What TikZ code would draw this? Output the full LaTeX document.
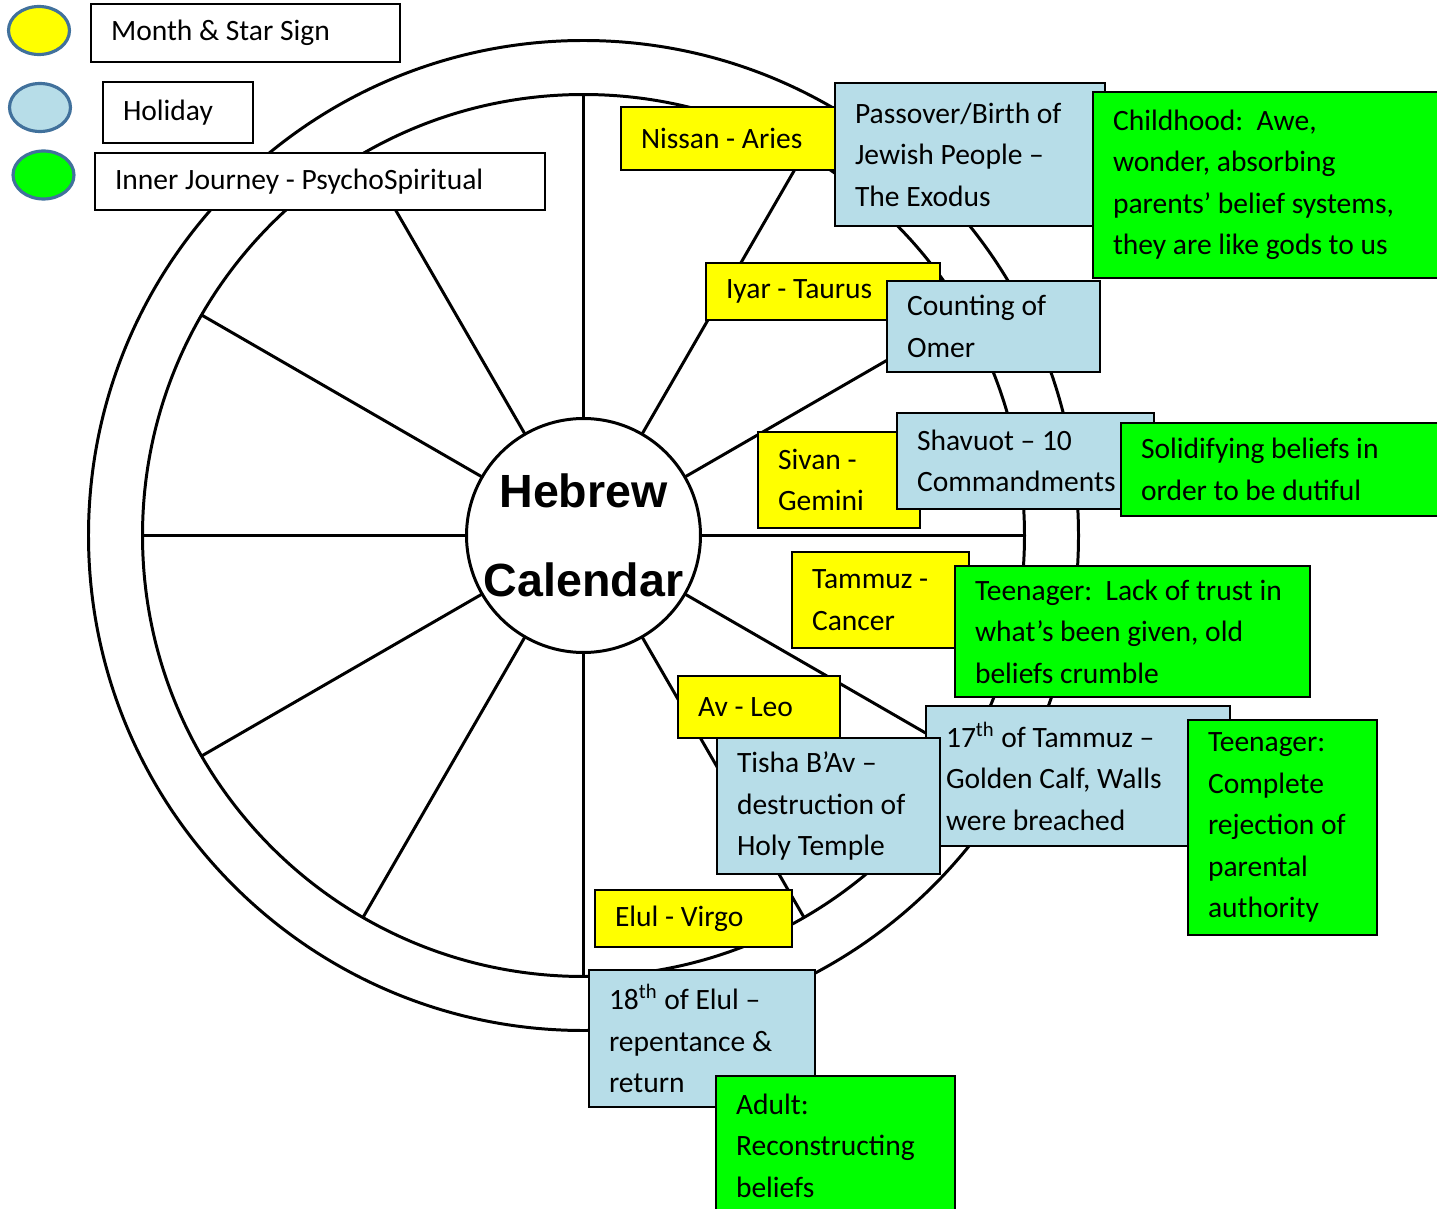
\documentclass[tikz,border=0pt]{standalone}
\usepackage{fontspec}
\setmainfont{Carlito}
\newfontfamily\hubfont{Liberation Sans}
\usetikzlibrary{shapes.geometric}
\definecolor{monthColor}{HTML}{FFFF00}
\definecolor{holidayColor}{HTML}{B7DDE8}
\definecolor{journeyColor}{HTML}{00FF00}
\definecolor{keyEdge}{HTML}{41719C}
\tikzset{
	box/.style={draw, line width=1pt, inner xsep=0.4cm, inner ysep=0pt, align=flush left,
		font=\fontsize{16.8}{23.6}\selectfont},
	month/.style={box, fill=monthColor},
	holiday/.style={box, fill=holidayColor},
	journey/.style={box, fill=journeyColor},
	legend/.style={box, fill=white},
	key/.style={ellipse, draw=keyEdge, line width=1.8pt, minimum width=1.22cm,
		minimum height=0.96cm, inner sep=0},
	rim/.style={line width=1.7pt}
}

\begin{document}
\begin{tikzpicture}[x=0.02cm, y=-0.02cm]
	\useasboundingbox (0,0) rectangle (1437,1209);
	% wheel
	\coordinate (wc) at (583.5,535.5);
	\draw[rim] (wc) circle (495);
	\draw[rim] (wc) circle (441);
	\begin{scope}[shift={(wc)}]
		\foreach \a in {0,30,...,330}
			\draw[rim] (\a:117) -- (\a:441);
	\end{scope}
	\node[circle, draw, rim, fill=white, minimum size=4.68cm, inner sep=0, align=center,
		font=\hubfont\bfseries\fontsize{26.5}{51}\selectfont] (hub) at (wc) {Hebrew\\Calendar};
	% legend
	\node[key, fill=monthColor] (k1) at (39,30.5) {};
	\node[key, fill=holidayColor] (k2) at (40,107.5) {};
	\node[key, fill=journeyColor] (k3) at (43.5,175) {};
	\node[legend, text width=5.38cm, minimum height=1.16cm] (l1) at (245.5,33) {Month \& Star Sign};
	\node[legend, text width=2.2cm, minimum height=1.22cm] (l2) at (178,112.5) {Holiday};
	\node[legend, text width=8.2cm, minimum height=1.14cm] (l3) at (320,181.5) {Inner Journey - PsychoSpiritual};
	% months, holidays, journey
	\node[month, text width=3.54cm, minimum height=1.26cm] (nissan) at (729.5,138.5) {Nissan - Aries};
	\node[holiday, text width=4.6cm, minimum height=2.86cm] (passover) at (970,154.5) {Passover/Birth of\\Jewish People --\\The Exodus};
	\node[journey, text width=6.14cm, minimum height=3.72cm] (child) at (1266.5,185) {Childhood:\ \ Awe,\\wonder, absorbing\\parents’ belief systems,\\they are like gods to us};
	\node[month, text width=3.88cm, minimum height=1.14cm] (iyar) at (823,291.5) {Iyar - Taurus};
	\node[holiday, text width=3.46cm, minimum height=1.82cm] (omer) at (993.5,326.5) {Counting of\\Omer};
	\node[month, text width=2.44cm, minimum height=1.92cm] (sivan) at (839,480) {Sivan -\\Gemini};
	\node[holiday, text width=4.34cm, minimum height=1.92cm] (shavuot) at (1025.5,461) {Shavuot -- 10\\Commandments};
	\node[journey, text width=5.58cm, minimum height=1.86cm] (solid) at (1280.5,469.5) {Solidifying beliefs in\\order to be dutiful};
	\node[month, text width=2.74cm, minimum height=1.92cm] (tammuz) at (880.5,600) {Tammuz -\\Cancer};
	\node[journey, text width=6.3cm, minimum height=2.62cm] (teen1) at (1132.5,631.5) {Teenager:~~Lack~of~trust~in\\what’s been given, old\\beliefs crumble};
	\node[month, text width=2.44cm, minimum height=1.24cm] (av) at (759,707) {Av - Leo};
	\node[holiday, text width=5.28cm, minimum height=2.8cm] (tammuz17) at (1078,776) {17\textsuperscript{th} of Tammuz --\\Golden Calf, Walls\\were breached};
	\node[holiday, text width=3.66cm, minimum height=2.72cm] (tisha) at (828.5,806) {Tisha B’Av --\\destruction of\\Holy Temple};
	\node[journey, text width=2.98cm, minimum height=4.3cm] (teen2) at (1282.5,827.5) {Teenager:\\Complete\\rejection of\\parental\\authority};
	\node[month, text width=3.14cm, minimum height=1.14cm] (elul) at (693.5,918.5) {Elul - Virgo};
	\node[holiday, text width=3.72cm, minimum height=2.74cm] (elul18) at (702,1038.5) {18\textsuperscript{th} of Elul --\\repentance \&\\return};
	\node[journey, text width=3.98cm, minimum height=2.78cm] (adult) at (835.5,1145.5) {Adult:\\Reconstructing\\beliefs};
\end{tikzpicture}
\end{document}
